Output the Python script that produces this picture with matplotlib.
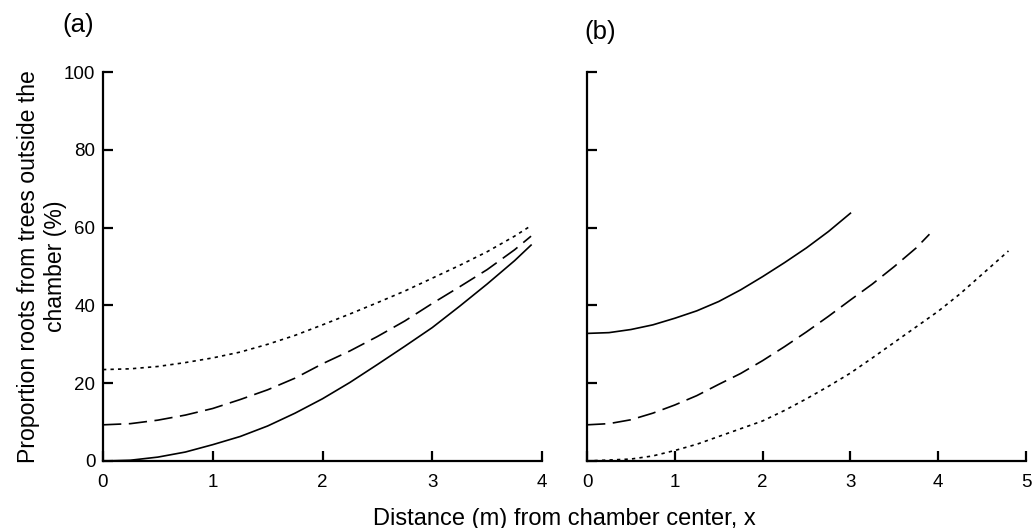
import matplotlib.pyplot as plt

plt.rcParams["font.family"] = ["Liberation Sans", "DejaVu Sans"]

# Panel (a)
xa = [0, 0.25, 0.5, 0.75, 1, 1.25, 1.5, 1.75, 2, 2.25, 2.5, 2.75, 3, 3.25, 3.5, 3.75, 3.9]
a_solid = [0, 0.2, 1.0, 2.3, 4.2, 6.3, 9.0, 12.3, 16.0, 20.2, 24.8, 29.5, 34.3, 39.8, 45.5, 51.5, 55.5]
a_dashed = [9.3, 9.6, 10.5, 11.8, 13.5, 15.8, 18.3, 21.3, 25.0, 28.3, 32.0, 36.0, 40.5, 44.8, 49.2, 54.3, 57.8]
a_dotted = [23.5, 23.7, 24.3, 25.3, 26.5, 28.0, 30.0, 32.3, 35.0, 37.8, 40.7, 43.7, 47.0, 50.3, 53.8, 57.8, 60.5]

# Panel (b)
xb_solid = [0, 0.25, 0.5, 0.75, 1, 1.25, 1.5, 1.75, 2, 2.25, 2.5, 2.75, 3]
b_solid = [32.8, 33.0, 33.8, 35.0, 36.7, 38.6, 41.0, 44.0, 47.4, 51.0, 54.8, 59.0, 63.7]
xb_dashed = [0, 0.25, 0.5, 0.75, 1, 1.25, 1.5, 1.75, 2, 2.25, 2.5, 2.75, 3, 3.25, 3.5, 3.75, 3.9]
b_dashed = [9.3, 9.6, 10.6, 12.3, 14.4, 16.8, 19.7, 22.5, 25.8, 29.4, 33.2, 37.2, 41.4, 45.5, 50.0, 54.8, 58.3]
xb_dotted = [0, 0.5, 0.75, 1, 1.25, 1.5, 1.75, 2, 2.25, 2.5, 2.75, 3, 3.25, 3.5, 3.75, 4, 4.25, 4.5, 4.8]
b_dotted = [0, 0.5, 1.3, 2.7, 4.3, 6.3, 8.3, 10.3, 13.0, 16.0, 19.2, 22.6, 26.5, 30.5, 34.5, 38.5, 43.0, 48.0, 54.0]

yticks = [0, 20, 40, 60, 80, 100]

fig = plt.figure(figsize=(10.34, 5.28), dpi=100)
ax1 = fig.add_axes([0.0996, 0.1269, 0.4246, 0.7367])
ax2 = fig.add_axes([0.5677, 0.1269, 0.4246, 0.7367])

SOLID = "-"
DASHED = (0, (11, 4.5))
DOTTED = (0, (2, 2.5))

ax1.plot(xa, a_solid, color="black", lw=1.2, linestyle=SOLID)
ax1.plot(xa, a_dashed, color="black", lw=1.2, linestyle=DASHED)
ax1.plot(xa, a_dotted, color="black", lw=1.2, linestyle=DOTTED)

ax2.plot(xb_solid, b_solid, color="black", lw=1.2, linestyle=SOLID)
ax2.plot(xb_dashed, b_dashed, color="black", lw=1.2, linestyle=DASHED)
ax2.plot(xb_dotted, b_dotted, color="black", lw=1.2, linestyle=DOTTED)

# Customize
for ax, xmax in [(ax1, 4), (ax2, 5)]:
    ax.set_xlim(0, xmax)
    ax.set_ylim(0, 100)
    ax.set_xticks(range(0, xmax + 1))
    ax.set_yticks(yticks)
    ax.spines["top"].set_visible(False)
    ax.spines["right"].set_visible(False)
    ax.spines["left"].set_linewidth(1.6)
    ax.spines["bottom"].set_linewidth(1.6)
    ax.tick_params(direction="in", length=7, width=1.6, labelsize=13.5)
    ax.tick_params(axis="x", pad=9.5)
    ax.tick_params(axis="y", pad=5.5)

ax2.set_yticklabels([])

# Labels
fig.text(0.0405, 0.496, "Proportion roots from trees outside the\nchamber (%)",
         size=16.6, rotation=90, ha="center", va="center")
fig.text(0.546, 0.006, "Distance (m) from chamber center, x", ha="center", va="baseline", size=17)

fig.text(0.0605, 0.952, "(a)", size=18.5, ha="left", va="center")
fig.text(0.565, 0.939, "(b)", size=18.5, ha="left", va="center")

plt.savefig("out.png", dpi=100)
